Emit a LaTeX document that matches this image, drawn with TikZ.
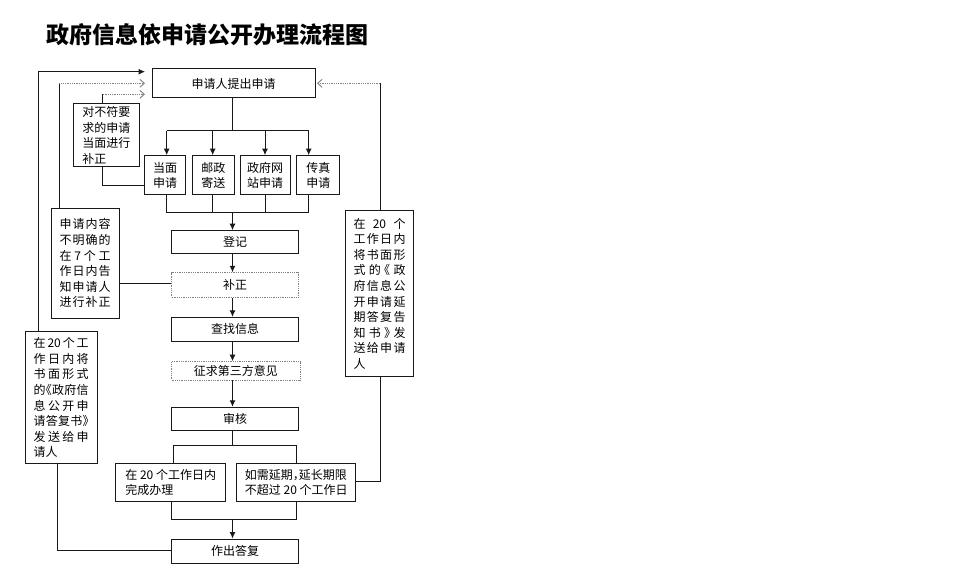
\documentclass[tikz,border=0pt]{standalone}
\usepackage{fontspec}
\newfontfamily\cjk{Noto Sans CJK SC}
\usetikzlibrary{arrows.meta}
\makeatletter
\def\spr@loop#1#2\spr@nil{#1\ifx\relax#2\relax\else\hfill\spr@loop#2\spr@nil\fi}
\newcommand\spr[2]{\makebox[#1]{\spr@loop#2\spr@nil}}
\makeatother
\newcommand\LB{\makebox[0.5em][r]{《}}
\newcommand\RB{\makebox[0.5em][l]{》}}
\newcommand\CM{\makebox[0.5em][l]{，}}
\tikzset{
  box/.style={draw=black!90, line width=1pt, inner sep=0pt, align=center,
    font=\cjk\fontsize{12}{15.6}\selectfont},
  dbox/.style={box, draw=black!50, line width=0.9pt, dash pattern=on 0.9pt off 0.9pt},
  line/.style={draw=black!90, line width=1pt},
  arr/.style={line, -{Latex[length=6.5pt,width=6pt]}},
  darr/.style={draw=black!50, line width=0.9pt, dash pattern=on 0.9pt off 0.9pt,
    -{Straight Barb[length=4.5pt,width=8pt,line width=0.9pt]}},
}
\begin{document}
\begin{tikzpicture}[x=1pt,y=-1pt]
\useasboundingbox (0,0) rectangle (960,583);
\node[anchor=west, inner sep=0pt, font=\cjk\bfseries\fontsize{23}{27}\selectfont] (title) at (46,35) {政府信息依申请公开办理流程图};

% main column
\node[box, minimum width=163, minimum height=29] (top) at (233.5,83.5) {申请人提出申请};
\node[box, minimum width=41.4, minimum height=39.3] (dm) at (165,175.3) {当面\\申请};
\node[box, minimum width=42, minimum height=39.3] (yz) at (213.3,175.3) {邮政\\寄送};
\node[box, minimum width=50, minimum height=39.3] (zf) at (265,175.3) {政府网\\站申请};
\node[box, minimum width=43.3, minimum height=39.3] (cz) at (318.3,175.3) {传真\\申请};
\node[box, minimum width=126.6, minimum height=22.6] (dj) at (235,242) {登记};
\node[dbox, minimum width=126.6, minimum height=24.6] (bz) at (235,285) {补正};
\node[box, minimum width=126.6, minimum height=23.7] (cx) at (235,329.2) {查找信息};
\node[dbox, minimum width=128.3, minimum height=18.3] (zq) at (235.8,370.8) {征求第三方意见};
\node[box, minimum width=126.6, minimum height=23.4] (sh) at (235,419) {审核};
\node[box, minimum width=110, minimum height=38.4, align=left] (wc) at (170.7,482.5) {在 20 个工作日内\\完成办理};
\node[box, minimum width=119.3, minimum height=38.4, align=left] (yq) at (296.3,482.5) {如需延期\CM 延长期限\\不超过 20 个工作日};
\node[box, minimum width=126.6, minimum height=24.3] (dfu) at (235,551.2) {作出答复};

% side boxes
\node[box, minimum width=66, minimum height=62.7, align=left] (b1) at (106.3,135.3) {对不符要\\求的申请\\当面进行\\补正};
\node[box, minimum width=68.3, minimum height=110] (b2) at (85.2,263.3)
  {\spr{51pt}{申请内容}\\\spr{51pt}{不明确的}\\\spr{51pt}{在7个工}\\\spr{51pt}{作日内告}\\\spr{51pt}{知申请人}\\\spr{51pt}{进行补正}};
\node[box, minimum width=72.3, minimum height=132.3] (b3) at (61.2,397.8)
  {\spr{55pt}{在{20}个工}\\\spr{55pt}{作日内将}\\\spr{55pt}{书面形式}\\\spr{55pt}{的\LB 政府信}\\\spr{55pt}{息公开申}\\\spr{55pt}{请答复书\RB}\\\spr{55pt}{发送给申}\\\makebox[55pt][l]{请人}};
\node[box, minimum width=67.6, minimum height=166] (b4) at (379.5,293.7)
  {\spr{52pt}{在{20}个}\\\spr{52pt}{工作日内}\\\spr{52pt}{将书面形}\\\spr{52pt}{式的\LB 政}\\\spr{52pt}{府信息公}\\\spr{52pt}{开申请延}\\\spr{52pt}{期答复告}\\\spr{52pt}{知书\RB 发}\\\spr{52pt}{送给申请}\\\makebox[52pt][l]{人}};

% branch under top
\coordinate (br1) at (232.5,130.7);
\draw[line] (top.south -| br1) -- (br1);
\coordinate (a1) at (166.7,130.7);
\coordinate (a2) at (212.7,130.7);
\coordinate (a3) at (265,130.7);
\coordinate (a4) at (308.7,130.7);
\draw[line] (a1) -- (a4);
\draw[arr] (a1) -- (a1 |- dm.north);
\draw[arr] (a2) -- (a2 |- yz.north);
\draw[arr] (a3) -- (a3 |- zf.north);
\draw[arr] (a4) -- (a4 |- cz.north);
\coordinate (c1) at (166.7,212.7);
\coordinate (c4) at (308.7,212.7);
\coordinate (br2) at (232.5,212.7);
\draw[line] (c1 |- dm.south) -- (c1) -- (c4) -- (c4 |- cz.south);
\draw[line] (a2 |- yz.south) -- (a2 |- c1);
\draw[line] (a3 |- zf.south) -- (a3 |- c1);
\draw[arr] (br2) -- (br2 |- dj.north);

% main chain
\draw[arr] (dj.south -| br1) -- (bz.north -| br1);
\draw[arr] (bz.south -| br1) -- (cx.north -| br1);
\draw[arr] (cx.south -| br1) -- (zq.north -| br1);
\draw[arr] (zq.south -| br1) -- (sh.north -| br1);

% branch under review
\coordinate (br3) at (232.5,445.7);
\coordinate (d1) at (173.3,445.7);
\coordinate (d2) at (296,445.7);
\draw[line] (sh.south -| br3) -- (br3);
\draw[line] (d1 |- wc.north) -- (d1) -- (d2) -- (d2 |- yq.north);
\coordinate (e1) at (171.7,519.3);
\coordinate (e2) at (296,519.3);
\coordinate (br4) at (232.5,519.3);
\draw[line] (e1 |- wc.south) -- (e1) -- (e2) -- (e2 |- yq.south);
\draw[arr] (br4) -- (br4 |- dfu.north);

% side connectors
\coordinate (t1) at (145,71.7);
\coordinate (t2) at (145,83.3);
\coordinate (t3) at (145,94.3);
\coordinate (t4) at (317,83.3);
\coordinate (L1) at (38.3,71.7);
\draw[arr] (L1 |- b3.north) -- (L1) -- (t1);
\coordinate (L2) at (59.3,83.3);
\draw[line] (L2 |- b2.north) -- (L2);
\draw[darr] (L2) -- (t2);
\coordinate (L3) at (102.7,94.3);
\draw[line] (L3 |- b1.north) -- (L3);
\draw[darr] (L3) -- (t3);
\coordinate (L4) at (102.7,185);
\draw[line] (L4 |- b1.south) -- (L4) -- (L4 -| dm.west);
\coordinate (L5) at (119.3,283.3);
\draw[line] (b2.east |- L5) -- (bz.west |- L5);
\coordinate (L6) at (57.7,550);
\draw[line] (L6 |- b3.south) -- (L6) -- (dfu.west |- L6);
\coordinate (R1) at (380,481);
\draw[line] (yq.east |- R1) -- (R1) -- (R1 |- b4.south);
\coordinate (R2) at (380,83.3);
\draw[line] (R2 |- b4.north) -- (R2);
\draw[darr] (R2) -- (t4);
\end{tikzpicture}
\end{document}
